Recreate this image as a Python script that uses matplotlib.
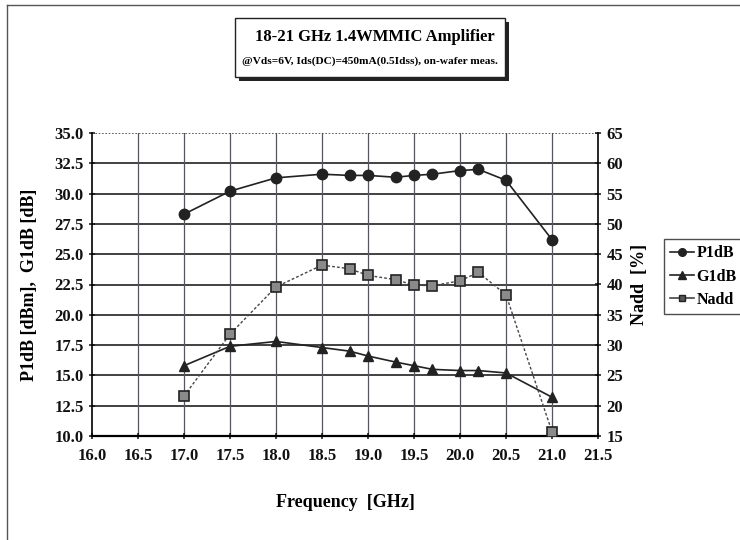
import numpy as np
import matplotlib.pyplot as plt
from matplotlib.patches import Rectangle
from matplotlib.lines import Line2D

plt.rcParams['font.family'] = ['Liberation Serif', 'DejaVu Serif']
plt.rcParams['font.weight'] = 'bold'
plt.rcParams['axes.labelweight'] = 'bold'

# frequency points [GHz]
freq = [17.0, 17.5, 18.0, 18.5, 18.8, 19.0, 19.3, 19.5, 19.7, 20.0, 20.2, 20.5, 21.0]
# P1dB [dBm]
p1db = [28.3, 30.2, 31.3, 31.6, 31.5, 31.5, 31.35, 31.5, 31.6, 31.9, 32.0, 31.1, 26.2]
# G1dB [dB]
g1db = [15.8, 17.4, 17.8, 17.3, 17.0, 16.6, 16.1, 15.8, 15.5, 15.4, 15.4, 15.2, 13.2]
# Nadd [%]
nadd = [21.6, 31.8, 39.6, 43.2, 42.6, 41.5, 40.8, 39.9, 39.8, 40.6, 42.0, 38.3, 15.7]

x_ticks = np.arange(16.0, 21.51, 0.5)
left_ticks = np.arange(10.0, 35.01, 2.5)
right_ticks = np.arange(15, 66, 5)

W, H = 740, 540
fig = plt.figure(figsize=(7.4, 5.4), dpi=100)
ax = fig.add_axes([92 / W, 1 - 436 / H, (598 - 92) / W, (436 - 133) / H])
ax2 = ax.twinx()

# grid
for v in left_ticks[1:-1]:
    ax.axhline(v, color='#333333', lw=1.3, zorder=1)
for v in x_ticks[1:-1]:
    ax.axvline(v, color='#555566', lw=0.9, zorder=1)

ax.plot(freq, p1db, color='#222222', lw=1.2, marker='o', ms=7.5,
        mfc='#222222', mec='#222222', zorder=4)
ax.plot(freq, g1db, color='#222222', lw=1.2, marker='^', ms=7.5,
        mfc='#222222', mec='#222222', zorder=4)
ax2.plot(freq, nadd, color='#444444', lw=1.0, ls=(0, (2, 1.5)), marker='s', ms=7,
         mfc='#8a8a8a', mec='#222222', mew=1.2, zorder=4)

ax.set_xlim(16.0, 21.5)
ax.set_ylim(10.0, 35.0)
ax2.set_ylim(15, 65)
ax.set_xticks(x_ticks)
ax.set_xticklabels([f'{v:.1f}' for v in x_ticks])
ax.set_yticks(left_ticks)
ax.set_yticklabels([f'{v:.1f}' for v in left_ticks])
ax2.set_yticks(right_ticks)
ax2.set_yticklabels([str(v) for v in right_ticks])

for a in (ax, ax2):
    a.tick_params(labelsize=12, length=5, width=1.1, direction='inout', colors='#111111')
    for s in a.spines.values():
        s.set_visible(False)
ax.tick_params(axis='x', pad=6)

ax.spines['left'].set_visible(True)
ax.spines['left'].set_linewidth(1.2)
ax.spines['bottom'].set_visible(True)
ax.spines['bottom'].set_linewidth(1.6)
ax2.spines['right'].set_visible(True)
ax2.spines['right'].set_linewidth(1.2)
ax.axhline(35.0, color='#444444', lw=1.2, ls=(0, (1, 1)), zorder=2)

ax.set_ylabel('P1dB [dBm],  G1dB [dB]', fontsize=13, labelpad=12, fontweight='bold')
ax2.set_ylabel('Nadd  [%]', fontsize=13, labelpad=6, fontweight='bold')
ax.set_xlabel('Frequency  [GHz]', fontsize=13, labelpad=22, fontweight='bold')

# title box with shadow
bx0, by0, bx1, by1 = 235, 18, 505, 77
fig.patches.append(Rectangle((bx0 / W + 4 / W, 1 - (by1 + 4) / H), (bx1 - bx0) / W, (by1 - by0) / H,
                             transform=fig.transFigure, facecolor='#222222', edgecolor='none', zorder=0))
fig.patches.append(Rectangle((bx0 / W, 1 - by1 / H), (bx1 - bx0) / W, (by1 - by0) / H,
                             transform=fig.transFigure, facecolor='white', edgecolor='#222222', lw=1.0, zorder=1))
fig.text(375 / W, 1 - 37 / H, '18-21 GHz 1.4WMMIC Amplifier', ha='center', va='center', fontsize=12)
fig.text(370 / W, 1 - 61 / H, '@Vds=6V, Ids(DC)=450mA(0.5Idss), on-wafer meas.',
         ha='center', va='center', fontsize=8.2)

# outer frame
fig.add_artist(Line2D([7 / W, 1], [1 - 5 / H, 1 - 5 / H], transform=fig.transFigure, color='#555555', lw=1.0))
fig.add_artist(Line2D([7 / W, 7 / W], [0, 1 - 5 / H], transform=fig.transFigure, color='#555555', lw=1.0))

handles = [
    Line2D([], [], color='#222222', lw=1.2, marker='o', ms=5.5, mfc='#222222'),
    Line2D([], [], color='#222222', lw=1.2, marker='^', ms=5.5, mfc='#222222'),
    Line2D([], [], color='#444444', lw=1.2, marker='s', ms=4.5, mfc='#555555', mec='#222222'),
]
leg = fig.legend(handles, ['P1dB', 'G1dB', 'Nadd'], loc='upper left',
                 bbox_to_anchor=(664 / W, 1 - 239 / H), fontsize=11.5, frameon=True,
                 fancybox=False, edgecolor='#222222', handlelength=1.5, handletextpad=0.15,
                 labelspacing=0.45, borderpad=0.4, borderaxespad=0)
leg.get_frame().set_linewidth(1.0)

fig.savefig('out.png', dpi=100)
